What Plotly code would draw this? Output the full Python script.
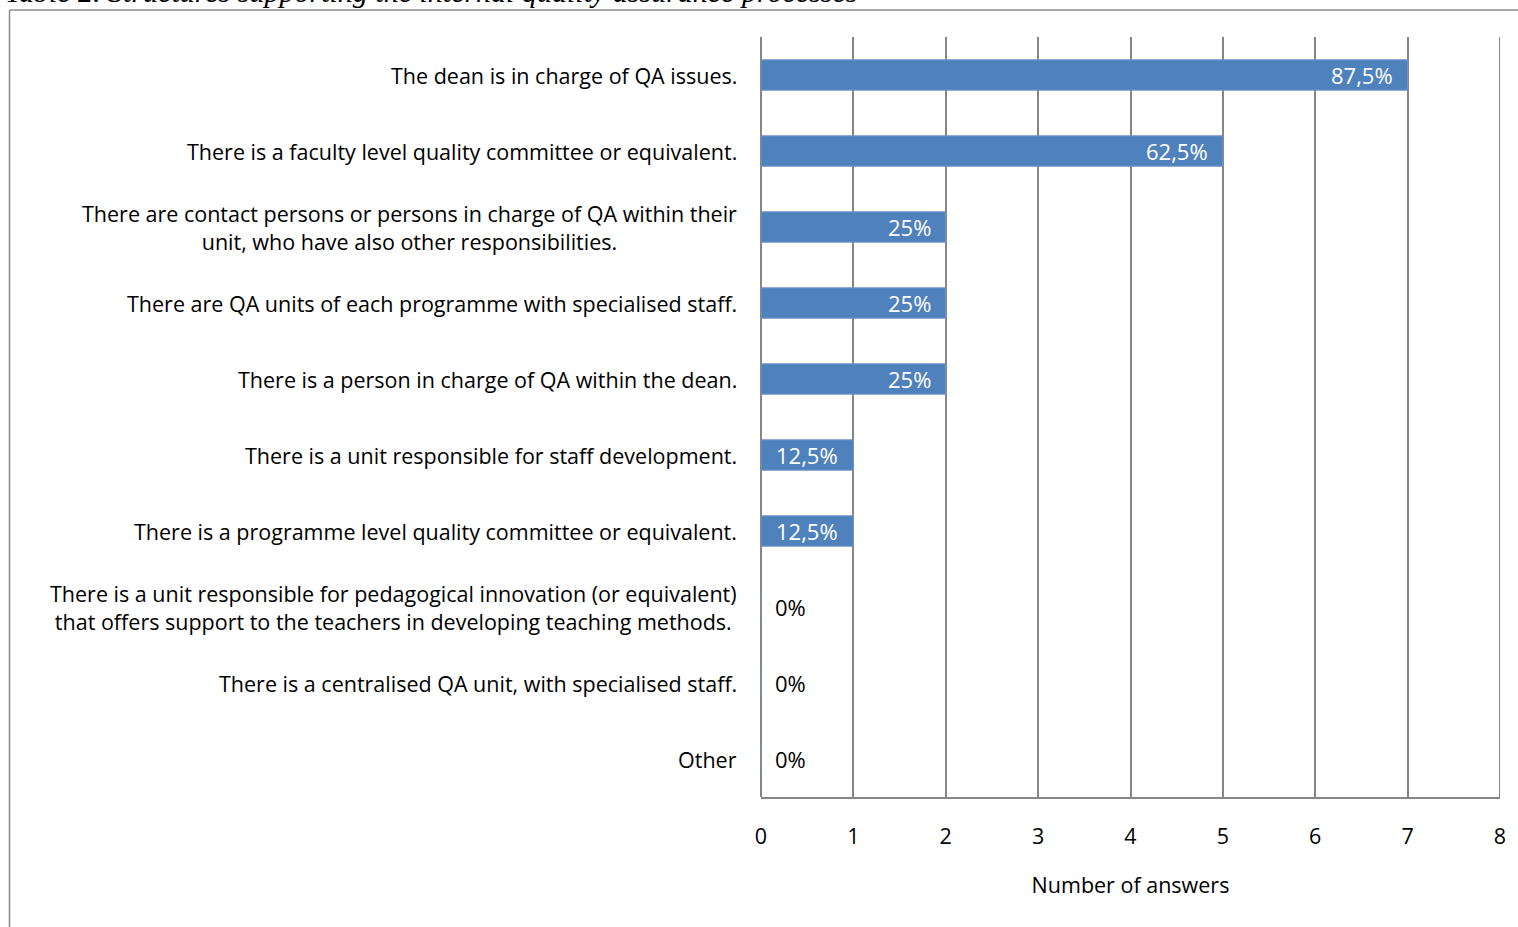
import plotly.graph_objects as go

# Survey answers per structure (8 faculties responded)
categories = [
    "The dean is in charge of QA issues.",
    "There is a faculty level quality committee or equivalent.",
    "There are contact persons or persons in charge of QA within their<br>unit, who have also other responsibilities.",
    "There are QA units of each programme with specialised staff.",
    "There is a person in charge of QA within the dean.",
    "There is a unit responsible for staff development.",
    "There is a programme level quality committee or equivalent.",
    "There is a unit responsible for pedagogical innovation (or equivalent)<br>that offers support to the teachers in developing teaching methods.",
    "There is a centralised QA unit, with specialised staff.",
    "Other",
]
answers = [7, 5, 2, 2, 2, 1, 1, 0, 0, 0]
respondents = 8
x_ticks = [0, 1, 2, 3, 4, 5, 6, 7, 8]

caption = "Table 2. Structures supporting the internal quality assurance processes"


def pct_label(v):
    return f"{v / respondents * 100:g}%".replace(".", ",")


W, H = 1518, 927
L, R, T, B = 761, 18, 37, 130
pw, ph = W - L - R, H - T - B


def px(x):
    return (x - L) / pw


def py(y):
    return 1 - (y - T) / ph


FONT = "Open Sans"
FS = 21.5
FS_VAL = 22
BLUE = "#4F81BD"
GRID = "#868686"

fig = go.Figure(
    go.Bar(
        x=answers,
        y=categories,
        orientation="h",
        width=0.4,
        marker=dict(color=BLUE, line=dict(color="#7396C8", width=1)),
        hoverinfo="skip",
    )
)

annotations = []
for cat in categories:
    annotations.append(dict(
        x=0, xref="paper", y=cat, yref="y", xanchor="right", yanchor="middle",
        xshift=-22, text=cat, showarrow=False, align="center",
        font=dict(family=FONT, size=FS, color="#000000"),
    ))
for cat, v in zip(categories, answers):
    if v > 0:
        annotations.append(dict(
            x=v, xref="x", y=cat, yref="y", xanchor="right", yanchor="middle",
            xshift=-13, text=pct_label(v), showarrow=False,
            font=dict(family=FONT, size=FS_VAL, color="#FFFFFF"),
        ))
    else:
        annotations.append(dict(
            x=v, xref="x", y=cat, yref="y", xanchor="left", yanchor="middle",
            xshift=12, text=pct_label(v), showarrow=False,
            font=dict(family=FONT, size=FS_VAL, color="#000000"),
        ))

# Caption above the framed chart, running off the top edge
annotations.append(dict(
    x=px(3), xref="paper", y=py(10), yref="paper", xanchor="left", yanchor="bottom",
    text="<i>" + caption + "</i>", showarrow=False,
    font=dict(family="Liberation Serif", size=30, color="#000000"),
))

shapes = [
    # chart frame
    dict(type="line", xref="paper", yref="paper", x0=px(9.5), x1=px(W + 5),
         y0=py(10), y1=py(10), line=dict(color="#8C8C8C", width=1.5)),
    dict(type="line", xref="paper", yref="paper", x0=px(9.5), x1=px(9.5),
         y0=py(10), y1=py(H + 5), line=dict(color="#8C8C8C", width=1.5)),
    # gridline at the right end of the value axis
    dict(type="line", xref="x", yref="paper", x0=x_ticks[-1], x1=x_ticks[-1],
         y0=0, y1=1, layer="below", line=dict(color=GRID, width=2)),
]

fig.update_layout(
    width=W, height=H,
    margin=dict(l=L, r=R, t=T, b=B, pad=0),
    paper_bgcolor="white", plot_bgcolor="white",
    showlegend=False,
    annotations=annotations,
    shapes=shapes,
    font=dict(family=FONT, size=FS, color="#000000"),
    xaxis=dict(
        range=[x_ticks[0], x_ticks[-1]], tickvals=x_ticks,
        ticktext=[str(t) for t in x_ticks],
        showgrid=True, gridcolor=GRID, gridwidth=2,
        zeroline=True, zerolinecolor=GRID, zerolinewidth=2,
        showline=True, linecolor=GRID, linewidth=2,
        ticks="", ticklabelstandoff=19,
        tickfont=dict(family=FONT, size=FS, color="#000000"),
        title=dict(text="Number of answers", standoff=29,
                   font=dict(family=FONT, size=FS, color="#000000")),
        fixedrange=True,
    ),
    yaxis=dict(
        type="category", autorange="reversed",
        showticklabels=False, showgrid=False, zeroline=False, showline=False,
        ticks="", fixedrange=True,
    ),
)

fig.write_html("out.html", config={"displayModeBar": False})
